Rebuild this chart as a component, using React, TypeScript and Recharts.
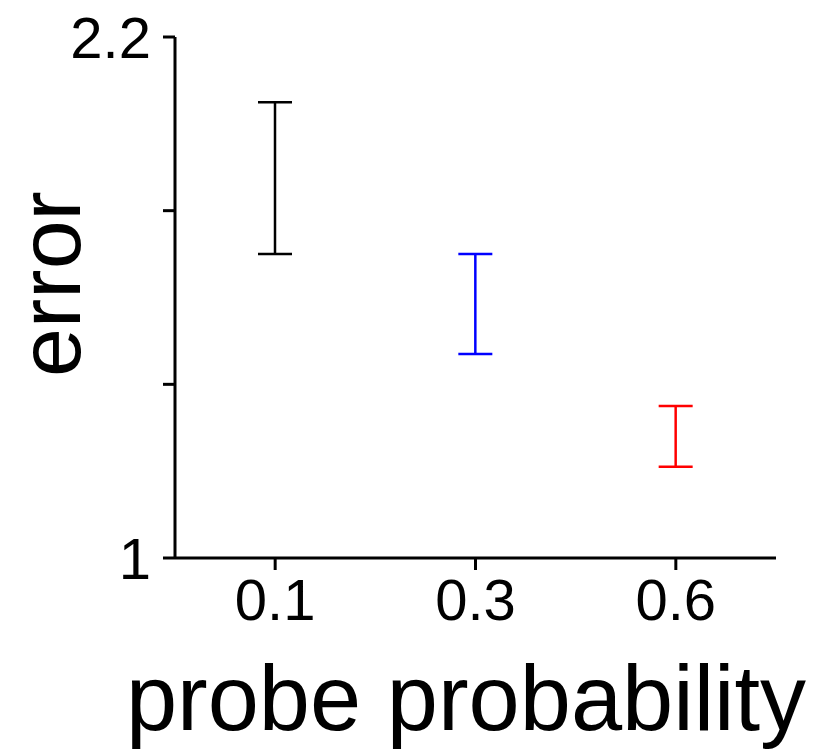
import { BarChart, Bar, XAxis, YAxis, Label } from "recharts";

const categories = ["0.1", "0.3", "0.6"];
const lower = [1.7, 1.47, 1.21];
const upper = [2.05, 1.7, 1.35];
const colors = ["#000000", "#0000ff", "#ff0000"];
const yTicks = [1, 1.4, 1.8, 2.2];
const yLabelled = [1, 2.2];

const data = categories.map((cat, i) => ({ cat, range: [lower[i], upper[i]] }));

const FONT = "'Liberation Sans', Arial, sans-serif";

function ErrorBarShape(props: any) {
  const { x, y, width, height, index } = props;
  const color = colors[index];
  const cx = x + width / 2;
  return (
    <g stroke={color} strokeWidth={2.5} fill="none">
      <line x1={cx} y1={y} x2={cx} y2={y + height} />
      <line x1={x} y1={y} x2={x + width} y2={y} />
      <line x1={x} y1={y + height} x2={x + width} y2={y + height} />
    </g>
  );
}

export default function App() {
  return (
    <div style={{ position: "absolute", left: 0, top: 0 }}>
      <BarChart
        width={827}
        height={750}
        data={data}
        margin={{ top: 37, right: 51, bottom: 0, left: 0 }}
      >
        <XAxis
          dataKey="cat"
          height={192}
          stroke="#000"
          strokeWidth={3}
          axisLine={{ stroke: "#000", strokeWidth: 3 }}
          tickLine={{ stroke: "#000", strokeWidth: 3 }}
          tickSize={12}
          tickMargin={9}
          tick={{ fill: "#000", fontSize: 58, fontFamily: FONT }}
        >
          <Label
            content={() => (
              <text x={466} y={730} textAnchor="middle" fontSize={92} fontFamily={FONT} fill="#000">
                probe probability
              </text>
            )}
          />
        </XAxis>
        <YAxis
          width={175}
          domain={[1, 2.2]}
          ticks={yTicks}
          allowDataOverflow
          interval={0}
          stroke="#000"
          strokeWidth={3}
          axisLine={{ stroke: "#000", strokeWidth: 3 }}
          tickLine={{ stroke: "#000", strokeWidth: 3 }}
          tickSize={12}
          tickMargin={12}
          tickFormatter={(v: number) => (yLabelled.includes(v) ? String(v) : "")}
          tick={{ fill: "#000", fontSize: 58, fontFamily: FONT }}
        >
          <Label
            content={() => (
              <text
                x={80}
                y={284}
                textAnchor="middle"
                fontSize={88}
                fontFamily={FONT}
                fill="#000"
                transform="rotate(-90, 80, 284)"
              >
                error
              </text>
            )}
          />
        </YAxis>
        <Bar dataKey="range" barSize={34} shape={ErrorBarShape} isAnimationActive={false} />
      </BarChart>
    </div>
  );
}
